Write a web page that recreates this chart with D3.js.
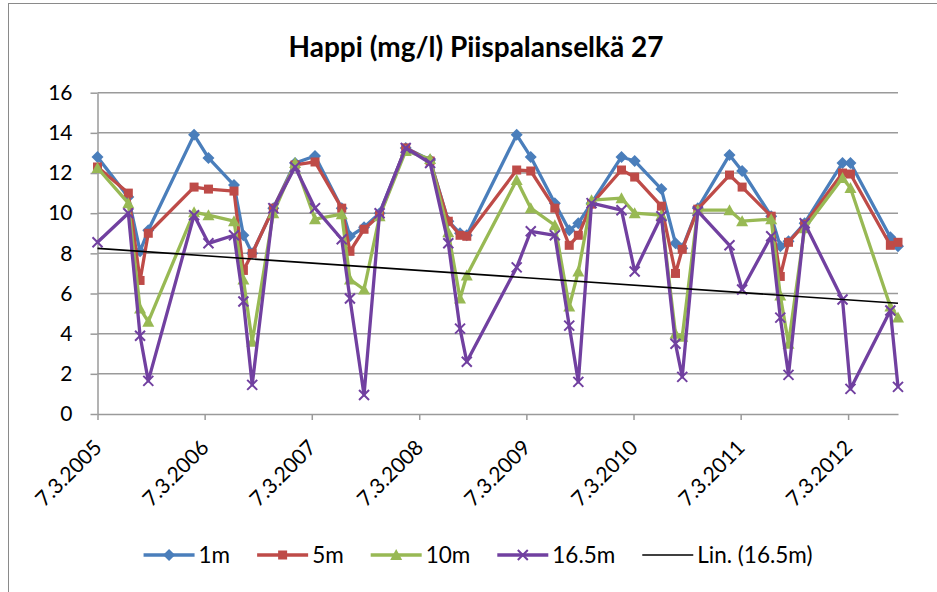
<!DOCTYPE html>
<html>
<head>
<meta charset="utf-8">
<script src="https://cdn.jsdelivr.net/npm/d3@7"></script>
<style>
  body { margin: 0; background: #fff; }
  text { font-family: Lato, "Open Sans", sans-serif; fill: #000; }
</style>
</head>
<body>
<div id="chart"></div>
<script>
// sampling dates
var dates = ["2005-03-07","2005-06-20","2005-07-30","2005-08-27","2006-01-30","2006-03-20","2006-06-15","2006-07-17","2006-08-16","2006-10-27",
             "2007-01-09","2007-03-18","2007-06-17","2007-07-15","2007-09-01","2007-10-24","2008-01-21","2008-04-13","2008-06-14","2008-07-24",
             "2008-08-16","2009-02-02","2009-03-22","2009-06-12","2009-07-31","2009-08-31","2009-10-15","2010-01-25","2010-03-11","2010-06-10",
             "2010-07-28","2010-08-20","2010-10-12","2011-01-28","2011-03-12","2011-06-19","2011-07-20","2011-08-17","2011-10-11","2012-02-17",
             "2012-03-15","2012-07-29","2012-08-24"];

// oxygen mg/l per depth
var depth1m = [12.8,10.8,8.1,9.15,13.9,12.75,11.4,8.9,8.0,10.25,
               12.5,12.85,10.25,8.85,9.3,10.0,13.25,12.65,9.6,9.0,
               8.9,13.9,12.8,10.5,9.15,9.5,10.5,12.8,12.6,11.2,
               8.5,8.25,10.25,12.9,12.1,9.85,8.35,8.6,9.5,12.5,
               12.5,8.8,8.35];
var depth5m = [12.3,11.0,6.65,9.0,11.3,11.2,11.1,7.15,8.0,10.25,
               12.4,12.55,10.25,8.1,9.2,9.9,13.25,12.6,9.6,8.9,
               8.85,12.15,12.1,10.25,8.4,8.9,10.45,12.15,11.8,10.35,
               7.0,8.2,10.2,11.9,11.3,9.85,6.85,8.55,9.45,12.0,
               11.95,8.4,8.55];
var depth10m = [12.25,10.5,5.25,4.6,10.05,9.9,9.6,6.7,3.6,10.0,
                12.5,9.7,9.95,6.7,6.2,9.85,13.1,12.7,9.05,5.75,
                6.9,11.65,10.25,9.4,5.35,7.1,10.65,10.75,10.0,9.9,
                4.0,3.85,10.15,10.15,9.6,9.7,5.9,3.5,9.25,11.75,
                11.25,5.35,4.8];
var depth16m = [8.55,10.0,3.9,1.65,9.9,8.5,8.9,5.6,1.45,10.25,
                12.3,10.25,8.7,5.75,0.95,10.0,13.25,12.5,8.5,4.25,
                2.6,7.3,9.1,8.9,4.4,1.6,10.5,10.15,7.1,9.85,
                3.5,1.85,10.1,8.4,6.2,8.85,4.8,1.95,9.5,5.7,
                1.25,5.15,1.35];

var seriesNames = ["1m", "5m", "10m", "16.5m"];
var trendName = "Lin. (16.5m)";
var yTicks = [0, 2, 4, 6, 8, 10, 12, 14, 16];
var xTicks = ["2005-03-07","2006-03-07","2007-03-07","2008-03-07","2009-03-07","2010-03-07","2011-03-07","2012-03-07"];

var colors = ["#4A7EBB", "#BE4B48", "#98B954", "#7140A0"];
var markers = ["diamond", "square", "triangle", "cross"];

var width = 937, height = 592;
var plot = {left: 97.5, right: 898, top: 92.7, bottom: 414};

var parseDate = d3.timeParse("%Y-%m-%d");
var fmt = d3.timeFormat("%-d.%-m.%Y");
var xDates = dates.map(parseDate);

var svg = d3.select("#chart")
  .append("svg")
    .attr("width", width)
    .attr("height", height);

// chart border (only top/left visible in the crop)
svg.append("rect")
  .attr("x", 8.5).attr("y", 3.5)
  .attr("width", 940).attr("height", 600)
  .attr("fill", "none")
  .attr("stroke", "#8a8a8a")
  .attr("stroke-width", 1);

svg.append("text")
  .attr("x", 476).attr("y", 57)
  .attr("text-anchor", "middle")
  .style("font-size", "28px")
  .style("font-weight", "bold")
  .text("Happi (mg/l) Piispalanselkä 27");

var x = d3.scaleTime()
  .domain(d3.extent(xDates))
  .range([plot.left, plot.right]);

var y = d3.scaleLinear()
  .domain([0, 16])
  .range([plot.bottom, plot.top]);

// gridlines
svg.append("g")
  .selectAll("line")
  .data(yTicks.slice(1))
  .enter().append("line")
    .attr("x1", plot.left).attr("x2", plot.right)
    .attr("y1", function(d) { return y(d); })
    .attr("y2", function(d) { return y(d); })
    .attr("stroke", "#9a9a9a")
    .attr("stroke-width", 1.5);

// Y axis
var yAxis = svg.append("g")
  .attr("transform", "translate(" + plot.left + ",0)")
  .call(d3.axisLeft(y).tickValues(yTicks).tickSize(7).tickSizeOuter(0).tickPadding(18));
yAxis.selectAll("path, line").attr("stroke", "#9a9a9a").attr("stroke-width", 1.5);
yAxis.selectAll("text")
  .style("font-size", "21px")
  .attr("fill", "#000");

// X axis
var xAxis = svg.append("g")
  .attr("transform", "translate(0," + plot.bottom + ")")
  .call(d3.axisBottom(x).tickValues(xTicks.map(parseDate)).tickFormat(fmt).tickSize(6).tickSizeOuter(0));
xAxis.selectAll("path, line").attr("stroke", "#9a9a9a").attr("stroke-width", 1.5);
xAxis.selectAll("text")
  .attr("x", 0).attr("y", 0).attr("dy", 0)
  .attr("transform", "translate(5,35) rotate(-45)")
  .style("text-anchor", "end")
  .style("font-size", "21px")
  .attr("fill", "#000");

var allSeries = [depth1m, depth5m, depth10m, depth16m];

function drawMarker(g, type, color) {
  if (type == "diamond") {
    g.append("path").attr("d", "M0,-6L6,0L0,6L-6,0Z").attr("fill", color);
  } else if (type == "square") {
    g.append("rect").attr("x", -4.5).attr("y", -4.5).attr("width", 9).attr("height", 9).attr("fill", color);
  } else if (type == "triangle") {
    g.append("path").attr("d", "M0,-6L6,5L-6,5Z").attr("fill", color);
  } else {
    g.append("path").attr("d", "M-5,-5L5,5M-5,5L5,-5")
      .attr("stroke", color).attr("stroke-width", 2).attr("fill", "none");
  }
}

var line = d3.line()
  .x(function(d) { return x(d.date); })
  .y(function(d) { return y(d.value); });

allSeries.forEach(function(vals, i) {
  var pts = vals.map(function(v, j) { return {date: xDates[j], value: v}; });
  var g = svg.append("g");
  g.append("path")
    .datum(pts)
    .attr("d", line)
    .attr("fill", "none")
    .attr("stroke", colors[i])
    .attr("stroke-width", 3.3)
    .attr("stroke-linejoin", "round");
  g.selectAll("g")
    .data(pts)
    .enter().append("g")
      .attr("transform", function(d) { return "translate(" + x(d.date) + "," + y(d.value) + ")"; })
      .each(function() { drawMarker(d3.select(this), markers[i], colors[i]); });
});

// linear trend of the deepest series (least squares over time)
var tx = xDates.map(function(d) { return +d; });
var mx = d3.mean(tx), my = d3.mean(depth16m);
var sxy = 0, sxx = 0;
tx.forEach(function(t, j) { sxy += (t - mx) * (depth16m[j] - my); sxx += (t - mx) * (t - mx); });
var slope = sxy / sxx, icpt = my - slope * mx;
var ends = d3.extent(xDates);
svg.append("line")
  .attr("x1", x(ends[0])).attr("y1", y(icpt + slope * (+ends[0])))
  .attr("x2", x(ends[1])).attr("y2", y(icpt + slope * (+ends[1])))
  .attr("stroke", "#000")
  .attr("stroke-width", 1.6);

// legend
var legendItems = seriesNames.map(function(n, i) { return {name: n, color: colors[i], marker: markers[i]}; });
legendItems.push({name: trendName, color: "#000", marker: null});

var legend = svg.append("g");
var lx = 0;
legendItems.forEach(function(it) {
  var g = legend.append("g").attr("transform", "translate(" + lx + ",0)");
  g.append("line")
    .attr("x1", 0).attr("x2", 51)
    .attr("stroke", it.color)
    .attr("stroke-width", it.marker ? 3.3 : 1.6);
  if (it.marker) {
    var m = g.append("g").attr("transform", "translate(25.5,0)");
    drawMarker(m, it.marker, it.color);
  }
  var t = g.append("text")
    .attr("x", 55).attr("y", 8)
    .style("font-size", "22.5px")
    .text(it.name);
  lx += 55 + t.node().getComputedTextLength() + 27;
});
lx -= 27;
legend.attr("transform", "translate(" + (478 - lx / 2) + ",555)");
</script>
</body>
</html>
